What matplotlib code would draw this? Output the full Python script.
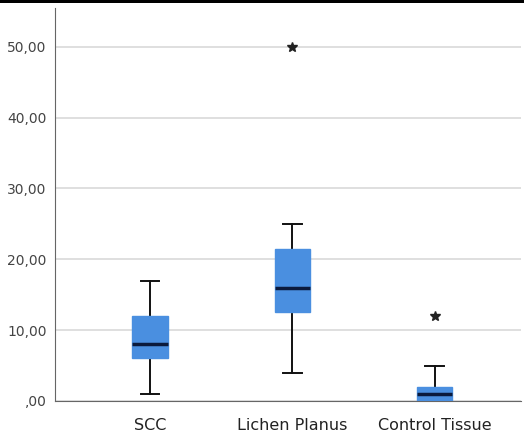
import matplotlib
matplotlib.use("Agg")
import matplotlib.pyplot as plt
from matplotlib.patches import Rectangle

categories = ["SCC", "Lichen Planus", "Control Tissue"]
whislo = [1.0, 4.0, 0.0]
q1 = [6.0, 12.5, 0.0]
med = [8.0, 16.0, 1.0]
q3 = [12.0, 21.4, 2.0]
whishi = [17.0, 25.0, 5.0]
fliers = [[], [50.0], [12.0]]
yticks = [0, 10, 20, 30, 40, 50]
ytick_labels = [",00", "10,00", "20,00", "30,00", "40,00", "50,00"]

fig = plt.figure(figsize=(5.24, 4.36), dpi=100)
ax = fig.add_axes([0.105, 0.0803, 0.89, 0.902])

stats = []
for i, c in enumerate(categories):
    stats.append(dict(label=c, whislo=whislo[i], q1=q1[i], med=med[i], q3=q3[i],
                      whishi=whishi[i], fliers=fliers[i]))

res = ax.bxp(stats, positions=[1, 2, 3], widths=0.25, patch_artist=True, showfliers=True,
             boxprops=dict(facecolor="#4a8fe0", edgecolor="#4a8fe0", linewidth=1),
             medianprops=dict(color="#0b1a3c", linewidth=2.5),
             whiskerprops=dict(color="#111111", linewidth=1.4),
             capprops=dict(color="#111111", linewidth=1.4),
             capwidths=0.13,
             flierprops=dict(marker="*", markerfacecolor="#222222", markeredgecolor="#222222",
                             markersize=7, linestyle="none"),
             zorder=3)
for b in res["boxes"]:
    b.set_zorder(4)
for m in res["medians"]:
    m.set_zorder(5)

ax.set_xlim(0.331, 3.61)
ax.set_ylim(0, 55.5)
ax.set_yticks(yticks)
ax.set_yticklabels(ytick_labels, color="#444444", fontsize=10)
ax.set_xticks([1, 2, 3])
ax.set_xticklabels(categories, color="#222222", fontsize=11.5)
ax.tick_params(axis="both", length=0, pad=6)
ax.tick_params(axis="x", pad=12)
ax.yaxis.grid(True, color="#d6d6d6", linewidth=1.1)
ax.set_axisbelow(True)
for s in ["top", "right"]:
    ax.spines[s].set_visible(False)
ax.spines["left"].set_color("#666666")
ax.spines["bottom"].set_color("#666666")

fig.add_artist(Rectangle((0, 0.994), 1, 0.006, transform=fig.transFigure,
                         facecolor="black", edgecolor="none"))

fig.savefig("out.png", dpi=100)
